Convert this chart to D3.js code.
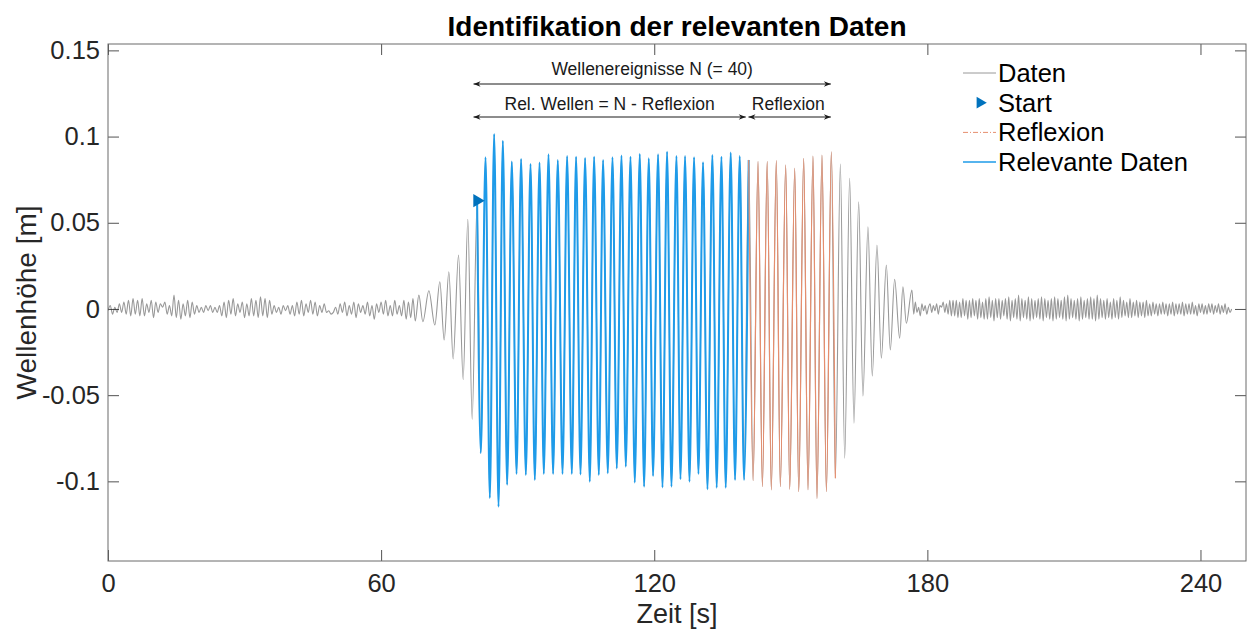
<!DOCTYPE html>
<html>
<head>
<meta charset="utf-8">
<script src="https://d3js.org/d3.v7.min.js"></script>
<style>
  body { margin: 0; background: #fff; }
  text { font-family: "Liberation Sans", Arial, sans-serif; }
</style>
</head>
<body>
<div id="chart"></div>
<script>
// Wellenhoehe [m] ueber Zeit [s]

// Ruhewasser-Rauschen vor dem Wellenzug (Abtastung alle 0.5 s ab t = 0)
var rauschenLinksStart = 0;
var rauschenLinksSchritt = 0.5;
var hoeheRauschenLinks = [
  -0.001, 0.002, -0.003, 0.001, -0.002, 0.003, -0.002, 0.004, -0.003, 0.005,
  -0.004, 0.006, -0.003, 0.005, -0.004, 0.006, -0.004, 0.003, -0.002, 0.005, -0.005,
  0.004, -0.002, 0.003, 0.001, 0.004, -0.003, 0.002, -0.004, 0.008, -0.005, 0.005,
  -0.006, 0.003, -0.004, 0.005, -0.005, 0.004, -0.003, 0.002,
  -0.002, 0.001, -0.002, 0.002, -0.001, 0.002, -0.002, 0.001, -0.002, 0.002,
  -0.004, 0.004, -0.005, 0.005, -0.003, 0.006, -0.004, 0.003, -0.002, 0.004,
  -0.005, 0.003, -0.004, 0.006, -0.004, 0.005,
  -0.005, 0.007, -0.004, 0.006, -0.005, 0.005,
  -0.003, 0.002, -0.002, 0.001, -0.003, 0.002, -0.001, 0.002, -0.003, 0.002,
  -0.004, 0.004, -0.003, 0.005, -0.004, 0.003, -0.002, 0.005, -0.003, 0.004,
  -0.004, 0.002, -0.002, 0.003,
  -0.002, -0.001, -0.003, -0.002,
  0.001, -0.003, 0.003, -0.002, 0.004, -0.004, 0.002, -0.003, 0.004, -0.005,
  0.003, -0.002, 0.002, -0.003, 0.004, -0.004, 0.002, -0.006, 0.003, -0.002,
  0.004, -0.003, 0.005, -0.004, 0.002, -0.004, 0.005, -0.003,
  0.002, -0.004, 0.005, -0.006, 0.004, -0.005, 0.006, -0.007
];

// Anstieg vor dem Start (Extremwerte)
var zeitAnstieg = [68.29, 69.17, 70.49, 71.80, 72.90, 73.85, 74.88, 75.82, 77.01, 78.02, 79.05, 80.00];
var hoeheAnstieg = [0.008, -0.0074, 0.0106, -0.0093, 0.0158, -0.018, 0.0216, -0.029, 0.0313, -0.041, 0.052, -0.064];

// Relevante Daten (erster Punkt = Start)
var zeitRelevant = [
  81.09, 81.90, 82.94, 83.88, 84.83, 85.79, 86.74, 87.68, 88.71, 89.75,
  90.75, 91.79, 92.82, 93.76, 94.80, 95.74, 96.77, 97.78, 98.81, 99.85,
  100.86, 101.89, 102.83, 103.80, 104.81, 105.84, 106.79, 107.82, 108.76, 109.79,
  110.83, 111.77, 112.80, 113.75, 114.78, 115.72, 116.82, 117.77, 118.80, 119.74,
  120.84, 121.81, 122.82, 123.78, 124.88, 125.76, 126.77, 127.74, 128.75, 129.71,
  130.72, 131.69, 132.77, 133.72, 134.76, 135.70, 136.80, 137.75, 138.78, 139.72,
  140.75
];
var hoeheRelevant = [
  0.0628, -0.0837, 0.088, -0.1097, 0.1015, -0.1147, 0.0976, -0.102, 0.0855, -0.0957,
  0.087, -0.0963, 0.0841, -0.0992, 0.0849, -0.0957, 0.0897, -0.0957, 0.0864, -0.0957,
  0.0887, -0.0957, 0.0883, -0.096, 0.0876, -0.1002, 0.0883, -0.0963, 0.0864, -0.0953,
  0.088, -0.0925, 0.089, -0.0915, 0.0883, -0.1007, 0.0899, -0.1031, 0.0874, -0.0969,
  0.0897, -0.1035, 0.0912, -0.1031, 0.0887, -0.0988, 0.0887, -0.1002, 0.088, -0.0957,
  0.0851, -0.1046, 0.0893, -0.1037, 0.0883, -0.1037, 0.0907, -0.0992, 0.0887, -0.0992,
  0.0864
];

// Reflexion
var zeitReflexion = [
  140.75, 141.72, 142.80, 143.76, 144.82, 145.72, 146.82, 147.70, 148.88, 149.76,
  150.86, 151.74, 152.83, 153.78, 154.87, 155.75, 156.85, 157.82, 158.91, 159.79
];
var hoeheReflexion = [
  0.0864, -0.0996, 0.0855, -0.1031, 0.0855, -0.105, 0.086, -0.1031, 0.0835, -0.1046,
  0.0816, -0.106, 0.0874, -0.105, 0.0887, -0.11, 0.0893, -0.106, 0.0912, -0.0982
];

// Abklingen nach dem Wellenzug
var zeitAbklingen = [160.89, 161.84, 162.93, 163.88, 164.91, 165.85, 166.95, 167.90, 168.93,
  169.89, 170.99, 171.86, 172.81, 173.91, 174.63, 175.38, 176.61];
var hoeheAbklingen = [0.084, -0.0866, 0.0758, -0.0663, 0.0622, -0.0505, 0.0477, -0.0389, 0.0371,
  -0.0286, 0.0255, -0.0238, 0.0172, -0.017, 0.0129, -0.0083, 0.011];

// Rauschen nach dem Wellenzug (Abtastung alle 0.36 s)
var rauschenRechtsStart = 177.0;
var rauschenRechtsSchritt = 0.36;
var hoeheRauschenRechts = [
  -0.003, 0.004, -0.002, 0.001, -0.004, 0.003, -0.001, 0.002, -0.003, 0.001,
  0.003, -0.002, 0.002, -0.001, 0.003, -0.003, 0.002, 0.001, 0.004, -0.002,
  0.003, -0.003, 0.005, -0.004, 0.005,
  -0.004, 0.005, -0.005, 0.004, -0.005, 0.006, -0.004, 0.005, -0.006, 0.005,
  -0.005, 0.006, -0.004, 0.005, -0.006, 0.006, -0.005, 0.004, -0.006, 0.006,
  -0.006, 0.007, -0.005, 0.005, -0.007, 0.006, -0.005, 0.006, -0.006, 0.005,
  -0.004, 0.006, -0.006, 0.007, -0.007, 0.005, -0.005, 0.006, -0.006, 0.008,
  -0.007, 0.006, -0.005, 0.005, -0.006, 0.007, -0.007, 0.006, -0.006, 0.005,
  -0.005, 0.006, -0.006, 0.007, -0.007, 0.006, -0.005, 0.005, -0.006, 0.006,
  -0.007, 0.007, -0.006, 0.006, -0.005, 0.005, -0.006, 0.007, -0.007, 0.008,
  -0.006, 0.006, -0.005, 0.005, -0.006, 0.006, -0.007, 0.007, -0.006, 0.005,
  -0.005, 0.006, -0.006, 0.007, -0.006, 0.006, -0.007, 0.008, -0.006, 0.006,
  -0.005, 0.005, -0.006, 0.006, -0.005, 0.004, -0.006, 0.006, -0.005, 0.005,
  -0.006, 0.007, -0.005, 0.005, -0.004, 0.004, -0.005, 0.006, -0.005, 0.004,
  -0.004, 0.005, -0.005, 0.004, -0.004, 0.004, -0.005, 0.005, -0.004, 0.003,
  -0.004, 0.004,
  -0.003, 0.003, -0.004, 0.003, -0.003, 0.004, -0.003, 0.003, -0.004, 0.003,
  -0.003, 0.004, -0.004, 0.003, -0.003, 0.003, -0.003, 0.004, -0.004, 0.003,
  -0.003, 0.003, -0.003, 0.004, -0.003, 0.002, -0.004, 0.003, -0.002, 0.003,
  -0.003, 0.002, -0.003, 0.003, -0.002, 0.003, -0.003, 0.002, -0.002, 0.003,
  -0.003, 0.002, -0.002, 0.003, -0.003, 0.001, -0.002, 0.0
];

// Beschriftung der Wellenereignisse [s]
var ereignisAnfang = 80.3;
var ereignisTrennung = 140.1;
var ereignisEnde = 158.8;

var xTicks = [0, 60, 120, 180, 240];
var yTicks = [0.15, 0.1, 0.05, 0, -0.05, -0.1];
var yTickLabels = ["0.15", "0.1", "0.05", "0", "-0.05", "-0.1"];
var legendLabels = ["Daten", "Start", "Reflexion", "Relevante Daten"];

var farbeDaten = "#989898";
var farbeStart = "#0072bd";
var farbeReflexion = "#e68e6e";
var farbeRelevant = "#1e9be9";

// ---------------------------------------------------------------

var svgWidth = 1247;
var svgHeight = 629;

var chartMargin = { top: 44, right: 1, bottom: 68, left: 108 };
var chartWidth = svgWidth - chartMargin.left - chartMargin.right;
var chartHeight = svgHeight - chartMargin.top - chartMargin.bottom;

var svg = d3.select("#chart")
  .append("svg")
  .attr("width", svgWidth)
  .attr("height", svgHeight);

var chartGroup = svg.append("g")
  .attr("transform", `translate(${chartMargin.left}, ${chartMargin.top})`);

var xScale = d3.scaleLinear().domain([0, 250]).range([0, chartWidth]);
var yScale = d3.scaleLinear().domain([-0.1462, 0.1537]).range([chartHeight, 0]);

function punkte(zeit, hoehe) {
  return hoehe.map(function(h, i) { return { t: zeit[i], h: h }; });
}
function abtastung(start, schritt, hoehe) {
  return hoehe.map(function(h, i) { return { t: start + i * schritt, h: h }; });
}

var relevantData = punkte(zeitRelevant, hoeheRelevant);
var reflexionData = punkte(zeitReflexion, hoeheReflexion);
var allData = [].concat(
  abtastung(rauschenLinksStart, rauschenLinksSchritt, hoeheRauschenLinks),
  punkte(zeitAnstieg, hoeheAnstieg),
  relevantData,
  reflexionData.slice(1),
  punkte(zeitAbklingen, hoeheAbklingen),
  abtastung(rauschenRechtsStart, rauschenRechtsSchritt, hoeheRauschenRechts)
);

var line = d3.line()
  .x(d => xScale(d.t))
  .y(d => yScale(d.h))
  .curve(d3.curveMonotoneX);

// clip
svg.append("defs").append("clipPath").attr("id", "clip")
  .append("rect").attr("width", chartWidth).attr("height", chartHeight);

var plot = chartGroup.append("g").attr("clip-path", "url(#clip)");

plot.append("path")
  .datum(allData)
  .attr("d", line)
  .attr("fill", "none")
  .attr("stroke", farbeDaten)
  .attr("stroke-width", 1.1);

plot.append("path")
  .datum(relevantData)
  .attr("d", line)
  .attr("fill", "none")
  .attr("stroke", farbeRelevant)
  .attr("stroke-width", 2);

plot.append("path")
  .datum(reflexionData)
  .attr("d", line)
  .attr("fill", "none")
  .attr("stroke", farbeReflexion)
  .attr("stroke-width", 1.2);

// Start marker
var tri = d3.symbol().type(d3.symbolTriangle).size(75);
chartGroup.append("path")
  .attr("d", tri)
  .attr("transform", `translate(${xScale(relevantData[0].t)}, ${yScale(relevantData[0].h)}) rotate(90)`)
  .attr("fill", farbeStart);

// axes
var axisColor = "#262626";
var tickLen = 11;

var bottomAxis = d3.axisBottom(xScale).tickValues(xTicks).tickSizeInner(-tickLen).tickSizeOuter(0).tickPadding(13);
var topAxis = d3.axisTop(xScale).tickValues(xTicks).tickSizeInner(-tickLen).tickSizeOuter(0).tickFormat("");
var leftAxis = d3.axisLeft(yScale).tickValues(yTicks).tickSizeInner(-tickLen).tickSizeOuter(0).tickPadding(8)
  .tickFormat((d, i) => yTickLabels[i]);
var rightAxis = d3.axisRight(yScale).tickValues(yTicks).tickSizeInner(-tickLen).tickSizeOuter(0).tickFormat("");

var gx = chartGroup.append("g").attr("transform", `translate(0, ${chartHeight})`).call(bottomAxis);
var gxt = chartGroup.append("g").call(topAxis);
var gy = chartGroup.append("g").call(leftAxis);
var gyr = chartGroup.append("g").attr("transform", `translate(${chartWidth}, 0)`).call(rightAxis);

[gx, gxt, gy, gyr].forEach(function(g) {
  g.select(".domain").remove();
  g.selectAll(".tick line").attr("stroke", axisColor).attr("stroke-width", 0.8);
  g.selectAll(".tick text")
    .attr("fill", axisColor)
    .style("font-size", "25.5px")
    .style("font-family", "'Liberation Sans', Arial, sans-serif");
});

chartGroup.append("rect")
  .attr("width", chartWidth)
  .attr("height", chartHeight)
  .attr("fill", "none")
  .attr("stroke", "#6b6b6b")
  .attr("stroke-width", 1);

// title and labels
svg.append("text")
  .attr("x", chartMargin.left + chartWidth / 2)
  .attr("y", 36)
  .attr("text-anchor", "middle")
  .style("font-size", "28px")
  .style("font-weight", "bold")
  .attr("fill", "#000")
  .text("Identifikation der relevanten Daten");

svg.append("text")
  .attr("x", chartMargin.left + chartWidth / 2)
  .attr("y", 623)
  .attr("text-anchor", "middle")
  .style("font-size", "27px")
  .attr("fill", axisColor)
  .text("Zeit [s]");

svg.append("text")
  .attr("transform", "rotate(-90)")
  .attr("x", -(chartMargin.top + chartHeight / 2))
  .attr("y", 36)
  .attr("text-anchor", "middle")
  .style("font-size", "28px")
  .attr("fill", axisColor)
  .text("Wellenhöhe [m]");

// annotation arrows
var defs = svg.select("defs");
defs.append("marker")
  .attr("id", "pfeil")
  .attr("viewBox", "0 0 10 10")
  .attr("refX", 10).attr("refY", 5)
  .attr("markerWidth", 9).attr("markerHeight", 7)
  .attr("markerUnits", "userSpaceOnUse")
  .attr("orient", "auto-start-reverse")
  .append("path")
  .attr("d", "M0,1 L10,5 L0,9 L3,5 Z")
  .attr("fill", "#1a1a1a");

function pfeil(t1, t2, y) {
  chartGroup.append("line")
    .attr("x1", xScale(t1)).attr("x2", xScale(t2))
    .attr("y1", y).attr("y2", y)
    .attr("stroke", "#1a1a1a")
    .attr("stroke-width", 1)
    .attr("marker-start", "url(#pfeil)")
    .attr("marker-end", "url(#pfeil)");
}
function beschriftung(t, y, txt) {
  chartGroup.append("text")
    .attr("x", xScale(t))
    .attr("y", y)
    .attr("text-anchor", "middle")
    .style("font-size", "17.5px")
    .attr("fill", "#1a1a1a")
    .text(txt);
}

pfeil(ereignisAnfang, ereignisEnde, 40);
pfeil(ereignisAnfang, ereignisTrennung, 73);
pfeil(ereignisTrennung + 0.6, ereignisEnde, 73);
beschriftung((ereignisAnfang + ereignisEnde) / 2, 31, "Wellenereignisse N (= 40)");
beschriftung((ereignisAnfang + ereignisTrennung) / 2, 66, "Rel. Wellen = N - Reflexion");
beschriftung((ereignisTrennung + ereignisEnde) / 2, 66, "Reflexion");

// legend
var legend = svg.append("g").attr("transform", "translate(963, 73)");
legendLabels.forEach(function(lab, i) {
  var g = legend.append("g").attr("transform", `translate(0, ${i * 29.7})`);
  if (i === 1) {
    g.append("path")
      .attr("d", d3.symbol().type(d3.symbolTriangle).size(60))
      .attr("transform", "translate(17, 0) rotate(90)")
      .attr("fill", farbeStart);
  } else {
    var col = i === 0 ? farbeDaten : (i === 2 ? farbeReflexion : farbeRelevant);
    g.append("line")
      .attr("x1", 0).attr("x2", 33)
      .attr("y1", 0).attr("y2", 0)
      .attr("stroke", col)
      .attr("stroke-width", i === 3 ? 1.5 : 1)
      .attr("stroke-dasharray", i === 2 ? "5,2,1,2" : null);
  }
  g.append("text")
    .attr("x", 35)
    .attr("y", 9)
    .style("font-size", "25.5px")
    .attr("fill", "#000")
    .text(lab);
});
</script>
</body>
</html>
